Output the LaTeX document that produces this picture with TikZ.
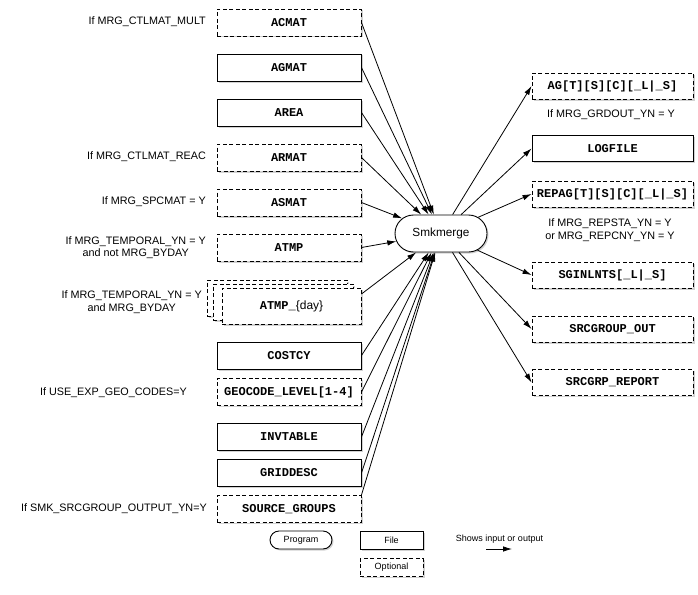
\documentclass[tikz,border=0pt]{standalone}
\usepackage{fontspec}
\setmainfont{Liberation Sans}
\setmonofont{Liberation Mono}
\usetikzlibrary{shapes.misc,shadows,arrows.meta}
\tikzset{
  lbl/.style={font=\fontsize{10.8}{12.5}\selectfont, align=center, inner sep=0pt},
  shad/.style={drop shadow={shadow xshift=1.5pt,shadow yshift=-1.5pt,opacity=0.35}},
  filebox/.style={draw, fill=white, line width=0.9pt, inner sep=0pt, minimum height=27pt,
    font=\ttfamily\bfseries\fontsize{12}{14}\selectfont, shad},
  optbox/.style={filebox, dash pattern=on 4pt off 2.5pt},
  leftbox/.style={minimum width=144pt},
  rightbox/.style={minimum width=161pt, minimum height=26pt},
  prog/.style={rounded rectangle, draw, fill=white, line width=0.9pt, inner sep=0pt, shad},
  legbox/.style={minimum width=63pt, minimum height=18pt, font=\fontsize{9}{11}\selectfont},
  arr/.style={-{Latex[length=9pt,width=5.5pt]}, line width=0.8pt},
}
\begin{document}
\begin{tikzpicture}[x=1pt,y=-1pt]
\useasboundingbox[fill=white] (0,0) rectangle (698,594);
% left inputs
\node[optbox,leftbox] (acmat) at (289,22.5) {ACMAT};
\node[filebox,leftbox] (agmat) at (289,67.5) {AGMAT};
\node[filebox,leftbox] (area) at (289,112.5) {AREA};
\node[optbox,leftbox] (armat) at (289,157.5) {ARMAT};
\node[optbox,leftbox] (asmat) at (289,202.5) {ASMAT};
\node[optbox,leftbox] (atmp) at (289,247.5) {ATMP};
\node[optbox,minimum width=140pt,minimum height=36pt] (atmpb1) at (277,298) {};
\node[optbox,minimum width=140pt,minimum height=36pt] (atmpb2) at (283,302) {};
\node[optbox,minimum width=139pt,minimum height=36pt] (atmpday) at (291.5,306) {ATMP\_{\rmfamily\mdseries\{day\}}};
\node[filebox,leftbox] (costcy) at (289,355.5) {COSTCY};
\node[optbox,leftbox] (geocode) at (289,392) {GEOCODE\_LEVEL[1-4]};
\node[filebox,leftbox] (invtable) at (289,437) {INVTABLE};
\node[filebox,leftbox] (griddesc) at (289,473) {GRIDDESC};
\node[optbox,leftbox] (srcgroups) at (289,509) {SOURCE\_GROUPS};
% left labels
\node[lbl,anchor=east] (l1) at (206,21.5) {If MRG\_CTLMAT\_MULT};
\node[lbl,anchor=east] (l2) at (206,157) {If MRG\_CTLMAT\_REAC};
\node[lbl,anchor=east] (l3) at (206,202) {If MRG\_SPCMAT = Y};
\node[lbl,anchor=east] (l4) at (206,247.5) {If MRG\_TEMPORAL\_YN = Y\\and not MRG\_BYDAY};
\node[lbl,anchor=east] (l5) at (202,302) {If MRG\_TEMPORAL\_YN = Y\\and MRG\_BYDAY};
\node[lbl,anchor=east] (l6) at (187,393) {If USE\_EXP\_GEO\_CODES=Y};
\node[lbl,anchor=east] (l7) at (207,509) {If SMK\_SRCGROUP\_OUTPUT\_YN=Y};
% program
\node[prog,minimum width=92pt,minimum height=37pt,font=\fontsize{11.8}{14}\selectfont] (smk) at (441,233.5) {Smkmerge};
% right outputs
\node[optbox,rightbox] (ag) at (612.5,86) {AG[T][S][C][\_L|\_S]};
\node[filebox,rightbox] (logfile) at (612.5,148.5) {LOGFILE};
\node[optbox,rightbox] (repag) at (612.5,194) {REPAG[T][S][C][\_L|\_S]};
\node[optbox,rightbox] (sginl) at (612.5,275) {SGINLNTS[\_L|\_S]};
\node[optbox,rightbox] (sgout) at (612.5,329) {SRCGROUP\_OUT};
\node[optbox,rightbox] (sgrep) at (612.5,382.5) {SRCGRP\_REPORT};
\node[lbl] (r1) at (611,115) {If MRG\_GRDOUT\_YN = Y};
\node[lbl] (r2) at (610,230) {If MRG\_REPSTA\_YN = Y\\or MRG\_REPCNY\_YN = Y};
% input arrows
\foreach \n in {acmat,agmat,area,armat,asmat,atmp,costcy,geocode,invtable,griddesc}
  \draw[arr] (\n.east) -- (smk);
\draw[arr] ([yshift=12pt]atmpday.east) -- (smk);
\draw[arr] (srcgroups.north east) -- (smk);
% output arrows
\foreach \n in {ag,logfile,repag,sginl,sgout,sgrep}
  \draw[arr] (smk) -- (\n.west);
% legend
\node[prog,legbox,minimum width=62pt] (lprog) at (301,540) {Program};
\node[filebox,legbox] (lfile) at (391.5,540) {\rmfamily\mdseries File};
\node[optbox,legbox] (lopt) at (391.5,567.5) {\rmfamily\mdseries Optional};
\node[inner sep=0pt,font=\fontsize{9}{11}\selectfont] (lshow) at (499.5,539) {Shows input or output};
\coordinate (la) at (486,549);
\coordinate (lb) at (512,549);
\draw[arr] (la) -- (lb);
\end{tikzpicture}
\end{document}
